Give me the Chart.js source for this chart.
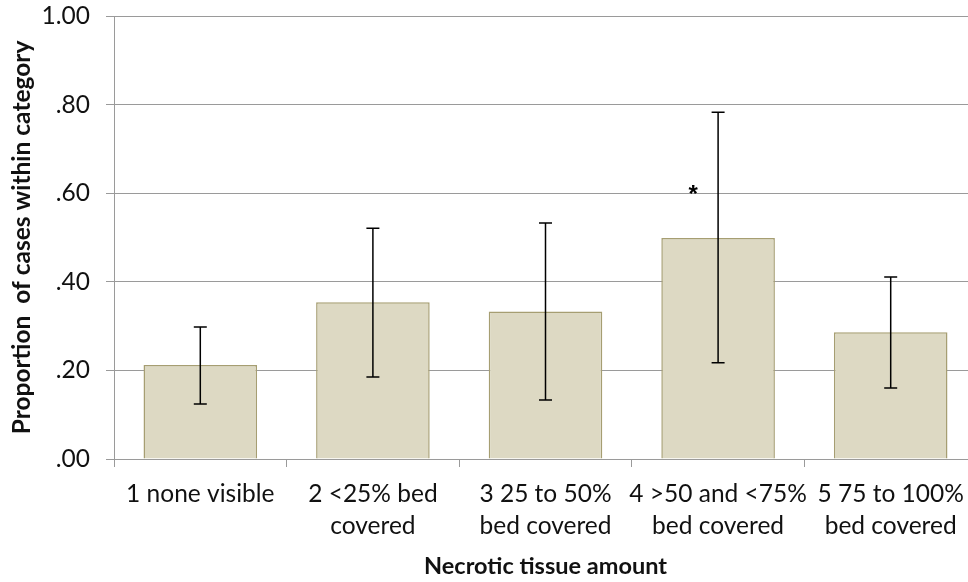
<!DOCTYPE html>
<html>
<head>
<meta charset="utf-8">
<script src="https://cdn.jsdelivr.net/npm/chart.js@4"></script>
<style>
  html, body { margin: 0; padding: 0; background: #fff; overflow: hidden; }
  #wrap { width: 968px; height: 582px; overflow: hidden; }
</style>
</head>
<body>
<div id="wrap"><canvas id="chart" width="977" height="582"></canvas></div>
<script>
// categories and values
const categories = [
    ['1 none visible'],
    ['2 <25% bed', 'covered'],
    ['3 25 to 50%', 'bed covered'],
    ['4 >50 and <75%', 'bed covered'],
    ['5 75 to 100%', 'bed covered']
];
const proportions = [0.212, 0.354, 0.333, 0.499, 0.286];
const errLow = [0.124, 0.185, 0.133, 0.217, 0.160];
const errHigh = [0.298, 0.521, 0.533, 0.783, 0.411];
const marks = ['', '', '', '*', ''];
const markLevel = 0.605;

const yTitle = 'Proportion  of cases within category';
const xTitle = 'Necrotic tissue amount';

const FONT = "Lato, 'Open Sans', sans-serif";
const GRID = '#9a9a9a';

// error bars + asterisk, drawn through the chart's own scales
const errorBars = {
    id: 'errorBars',
    afterDatasetsDraw(chart) {
        const ctx = chart.ctx;
        const y = chart.scales.y;
        const bars = chart.getDatasetMeta(0).data;
        ctx.save();
        ctx.strokeStyle = '#000';
        ctx.lineWidth = 1.5;
        bars.forEach((bar, i) => {
            const top = y.getPixelForValue(errHigh[i]);
            const bot = y.getPixelForValue(errLow[i]);
            const cap = 6.5;
            ctx.beginPath();
            ctx.moveTo(bar.x, top); ctx.lineTo(bar.x, bot);
            ctx.moveTo(bar.x - cap, top); ctx.lineTo(bar.x + cap, top);
            ctx.moveTo(bar.x - cap, bot); ctx.lineTo(bar.x + cap, bot);
            ctx.stroke();
            if (marks[i]) {
                ctx.fillStyle = '#000';
                ctx.font = "bold 24px 'Liberation Sans', sans-serif";
                ctx.textAlign = 'center';
                ctx.textBaseline = 'middle';
                ctx.fillText(marks[i], bar.x - bar.width * 0.22, y.getPixelForValue(markLevel) + 4);
            }
        });
        ctx.restore();
    }
};

new Chart(document.getElementById('chart'), {
    type: 'bar',
    data: {
        labels: categories,
        datasets: [{
            data: proportions,
            backgroundColor: '#DDD9C3',
            borderColor: '#A69E72',
            borderWidth: 1.5,
            categoryPercentage: 1,
            barPercentage: 0.658
        }]
    },
    options: {
        responsive: false,
        animation: false,
        devicePixelRatio: 1,
        layout: { padding: { top: 0, right: 0, bottom: 0, left: 0 } },
        plugins: { legend: { display: false }, tooltip: { enabled: false } },
        scales: {
            x: {
                offset: true,
                grid: { drawOnChartArea: false, drawTicks: true, tickLength: 8, color: GRID },
                border: { color: GRID },
                ticks: { color: '#111', font: { family: FONT, size: 24.5, lineHeight: 1.3 }, padding: 11, maxRotation: 0, autoSkip: false },
                title: { display: true, text: xTitle, color: '#111', font: { family: FONT, size: 23.5, weight: 'bold' }, padding: { top: 0, bottom: 1 } },
                afterFit: s => { s.height = 123; s.paddingLeft = 0; s.paddingRight = 0; }
            },
            y: {
                min: 0,
                max: 1,
                grid: { color: GRID, tickLength: 8 },
                border: { color: GRID },
                ticks: {
                    stepSize: 0.2,
                    color: '#111',
                    font: { family: FONT, size: 24.5 },
                    padding: 16,
                    callback: v => v === 1 ? '1.00' : v.toFixed(2).replace(/^0/, '')
                },
                title: { display: true, text: yTitle, color: '#111', font: { family: FONT, size: 24.5, weight: 'bold' }, padding: { top: 7, bottom: 0 } },
                afterFit: s => { s.width = 114; s.paddingTop = 16; s.paddingBottom = 0; }
            }
        }
    },
    plugins: [errorBars]
});
</script>
</body>
</html>
